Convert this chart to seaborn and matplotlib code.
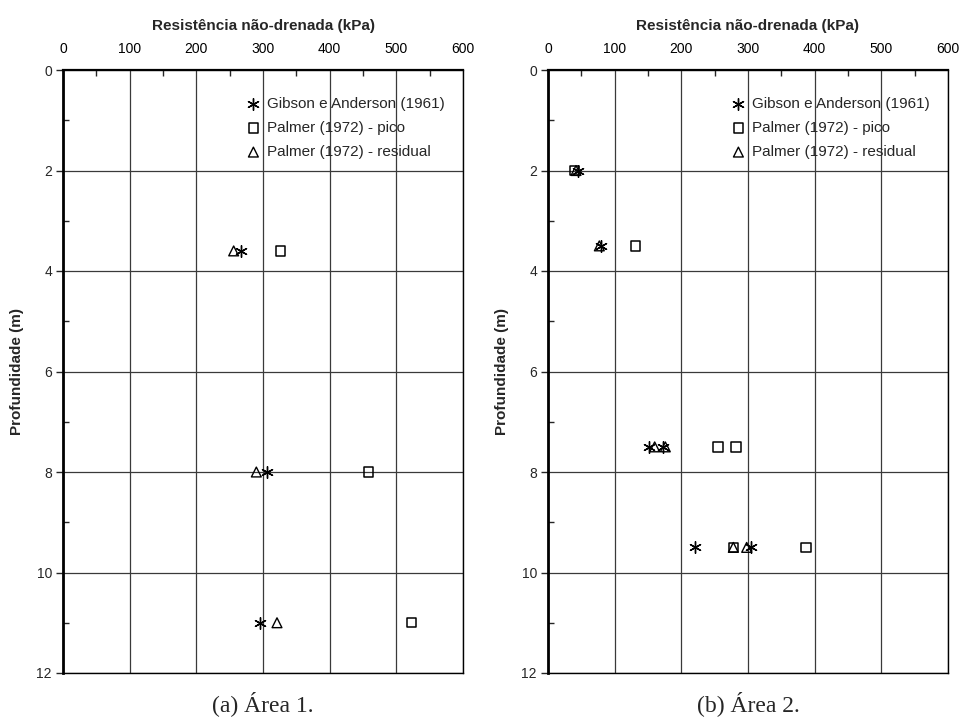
import matplotlib
matplotlib.use("Agg")
import matplotlib.pyplot as plt
import seaborn as sns
import pandas as pd
from matplotlib.ticker import MultipleLocator

# Área 1: profundidades e resistências (kPa)
depth_a1 = [3.6, 8.0, 11.0]
gibson_a1 = [267, 306, 296]
pico_a1 = [326, 458, 523]
resid_a1 = [256, 290, 321]

# Área 2
depth_a2 = [2.0, 3.5, 7.5, 7.5, 9.5, 9.5]
gibson_a2 = [45, 80, 152, 172, 220, 305]
pico_a2 = [40, 131, 255, 282, 278, 387]
resid_a2 = [42, 77, 160, 176, 278, 298]

series_labels = ["Gibson e Anderson (1961)", "Palmer (1972) - pico", "Palmer (1972) - residual"]
x_ticks = [0, 100, 200, 300, 400, 500, 600]
y_ticks = [0, 2, 4, 6, 8, 10, 12]
captions = ["(a) Área 1.", "(b) Área 2."]

sns.set_theme(style="white")
plt.rcParams["font.family"] = ["Liberation Sans", "DejaVu Sans"]

fig = plt.figure(figsize=(9.66, 7.2), dpi=100)
ax1 = fig.add_axes([63 / 966, 1 - 673 / 720, 400 / 966, 603 / 720])
ax2 = fig.add_axes([548 / 966, 1 - 673 / 720, 400 / 966, 603 / 720])

markers = {
    series_labels[0]: dict(marker=(6, 2, 0), s=70, facecolor="black", edgecolor="black", linewidth=1.0),
    series_labels[1]: dict(marker="s", s=45, facecolor="none", edgecolor="black", linewidth=1.1),
    series_labels[2]: dict(marker="^", s=50, facecolor="none", edgecolor="black", linewidth=1.0),
}


def build_frame(depth, gib, pic, res):
    rows = []
    for lab, vals in zip(series_labels, [gib, pic, res]):
        for d, v in zip(depth, vals):
            rows.append({"su": v, "z": d, "serie": lab})
    return pd.DataFrame(rows)


frames = [build_frame(depth_a1, gibson_a1, pico_a1, resid_a1),
          build_frame(depth_a2, gibson_a2, pico_a2, resid_a2)]

for ax, df, cap in zip([ax1, ax2], frames, captions):
    handles = []
    for lab in series_labels:
        sub = df[df["serie"] == lab]
        sns.scatterplot(data=sub, x="su", y="z", ax=ax, legend=False, zorder=3, **markers[lab])
        handles.append(ax.collections[-1])

    ax.set_xlim(0, 600)
    ax.set_ylim(12, 0)
    ax.xaxis.set_ticks_position("top")
    ax.xaxis.set_label_position("top")
    ax.set_xticks(x_ticks)
    ax.set_yticks(y_ticks)
    ax.xaxis.set_minor_locator(MultipleLocator(50))
    ax.yaxis.set_minor_locator(MultipleLocator(1))
    ax.tick_params(axis="x", which="major", direction="in", length=0, labelsize=10, pad=10, colors="black")
    ax.tick_params(axis="x", which="minor", direction="in", length=4, width=1, top=True, bottom=False)
    ax.tick_params(axis="y", which="major", direction="out", length=5, width=1, labelsize=10, pad=3, left=True)
    ax.tick_params(axis="y", which="minor", direction="in", length=4, width=1, left=True)
    ax.grid(True, which="major", color="#3a3a3a", linewidth=0.9)
    ax.set_axisbelow(True)
    for side, sp in ax.spines.items():
        sp.set_visible(True)
        sp.set_color("black")
        sp.set_linewidth(1.0)
    ax.spines["left"].set_linewidth(2.0)
    ax.spines["top"].set_linewidth(1.6)

    ax.set_xlabel("Resistência não-drenada (kPa)", fontsize=11, fontweight="bold", labelpad=9)
    ax.set_ylabel("Profundidade (m)", fontsize=11, fontweight="bold", labelpad=9)

    ax.legend(handles, series_labels, loc="upper right", bbox_to_anchor=(0.97, 0.965),
              frameon=False, fontsize=11, handletextpad=0.2, labelspacing=0.65,
              borderaxespad=0.0, handlelength=1.4)

    ax.text(0.5, -0.03, cap, transform=ax.transAxes, ha="center", va="top",
            fontsize=17, family=["Liberation Serif", "DejaVu Serif"])

fig.savefig("out.png", dpi=100, facecolor="white")
